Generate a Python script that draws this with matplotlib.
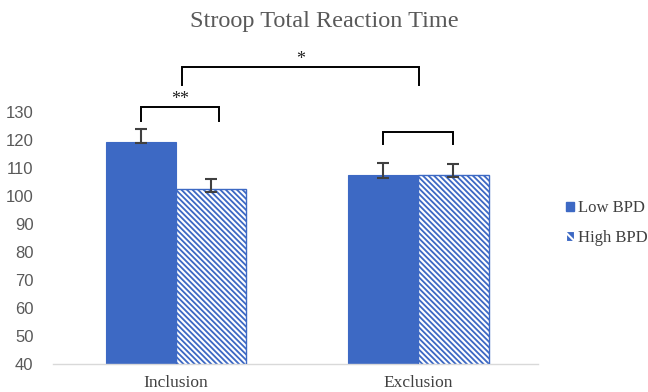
import matplotlib
matplotlib.use("Agg")
import matplotlib.pyplot as plt
import numpy as np
from matplotlib.patches import Patch

categories = ["Inclusion", "Exclusion"]
series_names = ["Low BPD", "High BPD"]
low_means = [119.4, 107.4]
high_means = [102.6, 107.6]
low_err_lo = [0.6, 1.1]
low_err_hi = [4.4, 4.3]
high_err_lo = [1.2, 0.9]
high_err_hi = [3.6, 3.8]
yticks = [40, 50, 60, 70, 80, 90, 100, 110, 120, 130]

blue = "#3D69C4"
W, H = 648, 392
fig = plt.figure(figsize=(W / 100, H / 100), dpi=100)
plt.rcParams['hatch.linewidth'] = 1.5
plt.rcParams['hatch.color'] = 'white'
HATCH = '\\' * 6

ax = fig.add_axes([53 / W, (H - 364) / H, (538 - 53) / W, (364 - 112) / H])
x = np.arange(len(categories)) + 0.0
bw = 0.289

ax.bar(x - bw / 2, low_means, bw, color=blue, edgecolor=blue, linewidth=0.8, zorder=2)
ax.bar(x + bw / 2, high_means, bw, color=blue, edgecolor='white', hatch=HATCH, linewidth=0,
       zorder=2)
ax.bar(x + bw / 2, high_means, bw, fill=False, edgecolor=blue, linewidth=1.0, zorder=3)

ax.errorbar(x - bw / 2, low_means, yerr=[low_err_lo, low_err_hi], fmt='none',
            ecolor='#404040', elinewidth=1.5, capsize=4, capthick=1.5, zorder=4)
ax.errorbar(x + bw / 2, high_means, yerr=[high_err_lo, high_err_hi], fmt='none',
            ecolor='#404040', elinewidth=1.5, capsize=4, capthick=1.5, zorder=4)

ax.set_xlim(-0.507, 1.493)
ax.set_ylim(40, 130)
ax.set_yticks(yticks)
ax.set_yticklabels([str(t) for t in yticks], fontsize=12, color='#595959',
                   family='Liberation Sans')
ax.set_xticks(x)
ax.set_xticklabels(categories, fontsize=12.5, color='#404040', family='Liberation Serif')
ax.tick_params(axis='both', length=0)
ax.tick_params(axis='y', pad=14)
ax.tick_params(axis='x', pad=8)
for s in ['top', 'right', 'left']:
    ax.spines[s].set_visible(False)
ax.spines['bottom'].set_color('#d9d9d9')
ax.spines['bottom'].set_linewidth(1.0)


def bracket(x0, x1, y_bar, y_leg, text=None, ty=None):
    ax.plot([x0, x0, x1, x1], [y_leg, y_bar, y_bar, y_leg], color='black', lw=1.4,
            clip_on=False, zorder=5, solid_joinstyle='miter')
    if text:
        ax.text((x0 + x1) / 2, ty, text, ha='center', va='center', fontsize=13,
                family='Liberation Serif', color='#222222', clip_on=False)


def px2y(py):
    return 40 + (364 - py) / 2.8


# Inclusion pair
bracket(x[0] - bw / 2, x[0] + bw / 2 + 0.035, px2y(107.3), px2y(120.7), '**', px2y(100))
# Exclusion pair
bracket(x[1] - bw / 2, x[1] + bw / 2, px2y(131.7), px2y(144.3))
# Between groups
bracket(x[0] - bw / 2 + 0.17, x[1] - bw / 2 + 0.145, px2y(67.3), px2y(85), '*', px2y(60))

fig.text(324 / W, 1 - 21 / H, "Stroop Total Reaction Time", ha='center', va='center',
         fontsize=17.5, family='Liberation Serif', color='#595959')

handles = [Patch(facecolor=blue, edgecolor=blue),
           Patch(facecolor=blue, edgecolor='white', hatch='\\\\', linewidth=0.8)]
leg = fig.legend(handles, series_names, loc='center left', bbox_to_anchor=(566 / W, 1 - 223 / H),
                 frameon=False, prop={'family': 'Liberation Serif', 'size': 12},
                 handlelength=0.5, handleheight=0.5, handletextpad=0.25, labelspacing=0.8,
                 borderaxespad=0, borderpad=0)
for t in leg.get_texts():
    t.set_color('#404040')

fig.savefig("out.png", dpi=100)
